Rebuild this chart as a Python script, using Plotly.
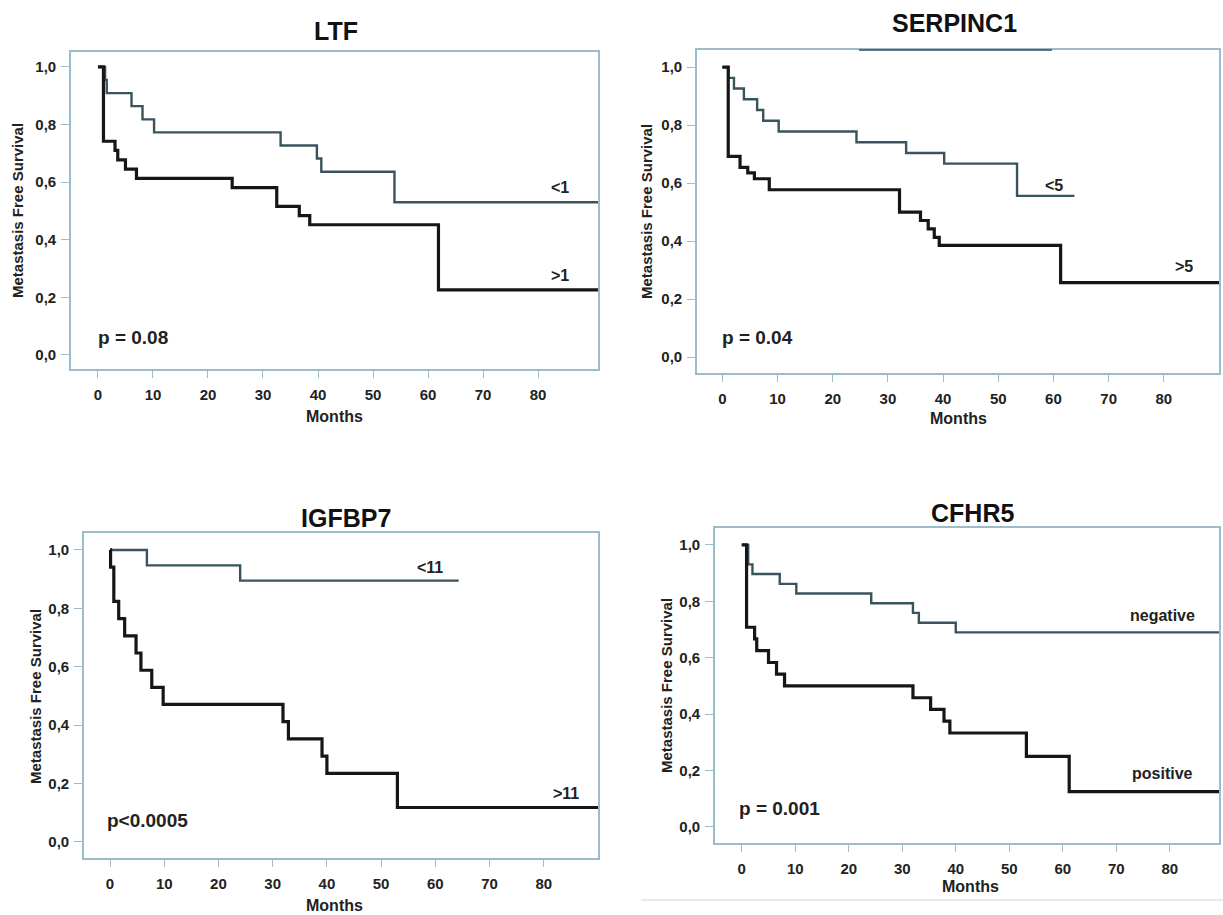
import plotly.graph_objects as go

W, H = 1223, 915

# ---------------- data (months, survival) ----------------
ltf_low_t = [0, 1.0, 3.1, 3.6, 5.0, 7.0, 24.4, 32.5, 36.6, 38.5, 61.9, 91.0]
ltf_low_s = [1.0, 0.742, 0.710, 0.677, 0.645, 0.613, 0.581, 0.516, 0.484, 0.452, 0.226, 0.226]
ltf_high_t = [0, 1.3, 1.6, 6.1, 8.1, 10.2, 33.2, 39.8, 40.6, 53.9, 91.0]
ltf_high_s = [1.0, 0.955, 0.909, 0.864, 0.818, 0.773, 0.727, 0.682, 0.636, 0.530, 0.530]

ser_high_t = [0, 1.06, 2.1, 3.9, 6.3, 7.4, 10.2, 24.3, 33.3, 40.2, 53.4, 63.8]
ser_high_s = [1.0, 0.963, 0.926, 0.889, 0.852, 0.815, 0.778, 0.741, 0.704, 0.667, 0.556, 0.556]
ser_low_t = [0, 1.06, 3.2, 4.6, 5.8, 8.5, 32.1, 35.9, 37.3, 38.4, 39.3, 61.3, 90.0]
ser_low_s = [1.0, 0.692, 0.654, 0.635, 0.615, 0.577, 0.500, 0.471, 0.442, 0.413, 0.385, 0.257, 0.257]

igf_high_t = [0, 6.8, 24.0, 64.3]
igf_high_s = [1.0, 0.947, 0.895, 0.895]
igf_low_t = [0, 0.1, 0.7, 1.6, 2.7, 4.8, 5.7, 7.7, 9.8, 31.9, 32.9, 39.1, 40.0, 53.0, 90.0]
igf_low_s = [1.0, 0.941, 0.824, 0.765, 0.706, 0.647, 0.588, 0.529, 0.471, 0.412, 0.353, 0.294, 0.235, 0.118, 0.118]

cf_neg_t = [0, 1.2, 2.0, 7.1, 10.2, 24.2, 32.0, 33.1, 40.0, 89.2]
cf_neg_s = [1.0, 0.931, 0.897, 0.862, 0.828, 0.793, 0.759, 0.724, 0.690, 0.690]
cf_pos_t = [0, 0.9, 2.4, 2.8, 5.0, 6.5, 8.0, 32.0, 35.3, 37.8, 38.9, 53.2, 61.2, 89.2]
cf_pos_s = [1.0, 0.708, 0.667, 0.625, 0.583, 0.542, 0.500, 0.458, 0.417, 0.375, 0.333, 0.250, 0.125, 0.125]

titles = ["LTF", "SERPINC1", "IGFBP7", "CFHR5"]
high_labels = ["<1", "<5", "<11", "negative"]
low_labels = [">1", ">5", ">11", "positive"]
p_texts = ["p = 0.08", "p = 0.04", "p<0.0005", "p = 0.001"]

y_tickvals = [0.0, 0.2, 0.4, 0.6, 0.8, 1.0]
y_ticktext = ["0,0", "0,2", "0,4", "0,6", "0,8", "1,0"]
x_tickvals = [0, 10, 20, 30, 40, 50, 60, 70, 80]
x_ticktext = ["0", "10", "20", "30", "40", "50", "60", "70", "80"]

# ---------------- layout geometry (pixels) ----------------
panels = [
    dict(box=(71, 598, 52, 369), xr=[-4.9, 90.9], yr=[-0.049, 1.052],
         high=(ltf_high_t, ltf_high_s), low=(ltf_low_t, ltf_low_s),
         title_xy=(336, 31), months_xy=(334, 416), ytitle_xy=(18, 211),
         hl_xy=(560, 188), ll_xy=(560, 275), p_xy=(96, 338)),
    dict(box=(697, 1219, 50, 373), xr=[-4.6, 90.0], yr=[-0.055, 1.059],
         high=(ser_high_t, ser_high_s), low=(ser_low_t, ser_low_s),
         title_xy=(954, 23), months_xy=(958, 418), ytitle_xy=(647, 212),
         hl_xy=(1054, 185), ll_xy=(1184, 267), p_xy=(720, 338)),
    dict(box=(84, 598, 533, 858), xr=[-4.8, 90.0], yr=[-0.055, 1.058],
         high=(igf_high_t, igf_high_s), low=(igf_low_t, igf_low_s),
         title_xy=(346, 518), months_xy=(334, 905), ytitle_xy=(35, 697),
         hl_xy=(430, 567), ll_xy=(566, 793), p_xy=(105, 820)),
    dict(box=(715, 1219, 528, 843), xr=[-5.0, 89.2], yr=[-0.057, 1.06],
         high=(cf_neg_t, cf_neg_s), low=(cf_pos_t, cf_pos_s),
         title_xy=(972, 513), months_xy=(970, 886), ytitle_xy=(666, 686),
         hl_xy=(1162, 615), ll_xy=(1162, 773), p_xy=(737, 808)),
]

FRAME = "#9cbccb"
HIGH_C = "#3a545e"
LOW_C = "#161616"
TXT = "#222222"
FONT = "Liberation Sans, Arial, sans-serif"


def px(x):
    return x / W


def py(y):
    return 1 - y / H


fig = go.Figure()
layout = dict(width=W, height=H, autosize=False, margin=dict(l=0, r=0, t=0, b=0),
              paper_bgcolor="white", plot_bgcolor="white", showlegend=False,
              annotations=[], shapes=[])

for i, p in enumerate(panels):
    n = "" if i == 0 else str(i + 1)
    x0, x1, y0, y1 = p["box"]
    xa = "x" + n
    ya = "y" + n
    for (t, s), col, lw in ((p["high"], HIGH_C, 2.4), (p["low"], LOW_C, 3.2)):
        fig.add_trace(go.Scatter(x=t, y=s, mode="lines", line=dict(color=col, width=lw, shape="hv"),
                                 xaxis=xa, yaxis=ya, hoverinfo="skip"))
    layout["xaxis" + n] = dict(domain=[px(x0), px(x1)], range=p["xr"], anchor=ya,
                               showline=True, mirror=True, linecolor=FRAME, linewidth=1.6,
                               showgrid=False, zeroline=False, ticks="outside", ticklen=7,
                               tickwidth=1.3, tickcolor=FRAME, tickvals=x_tickvals,
                               ticktext=x_ticktext, ticklabelstandoff=4,
                               tickfont=dict(family=FONT, size=15, color=TXT, weight="bold"))
    layout["yaxis" + n] = dict(domain=[py(y1), py(y0)], range=p["yr"], anchor=xa,
                               showline=True, mirror=True, linecolor=FRAME, linewidth=1.6,
                               showgrid=False, zeroline=False, ticks="outside", ticklen=8,
                               tickwidth=1.3, tickcolor=FRAME, tickvals=y_tickvals,
                               ticktext=y_ticktext, ticklabelstandoff=2,
                               tickfont=dict(family=FONT, size=15, color=TXT, weight="bold"))
    ann = layout["annotations"]
    tx, ty = p["title_xy"]
    ann.append(dict(x=px(tx), y=py(ty), xref="paper", yref="paper", text=titles[i],
                    showarrow=False, xanchor="center", yanchor="middle",
                    font=dict(family=FONT, size=25, color="#111", weight="bold")))
    mx, my = p["months_xy"]
    ann.append(dict(x=px(mx), y=py(my), xref="paper", yref="paper", text="Months",
                    showarrow=False, xanchor="center", yanchor="middle",
                    font=dict(family=FONT, size=16, color=TXT, weight="bold")))
    yx, yy = p["ytitle_xy"]
    ann.append(dict(x=px(yx), y=py(yy), xref="paper", yref="paper", text="Metastasis Free Survival",
                    showarrow=False, xanchor="center", yanchor="middle", textangle=-90,
                    font=dict(family=FONT, size=15, color=TXT, weight="bold")))
    hx, hy = p["hl_xy"]
    ann.append(dict(x=px(hx), y=py(hy), xref="paper", yref="paper", text=high_labels[i].replace("<", "&lt;"),
                    showarrow=False, xanchor="center", yanchor="middle",
                    font=dict(family=FONT, size=16, color=TXT, weight="bold")))
    lx, ly = p["ll_xy"]
    ann.append(dict(x=px(lx), y=py(ly), xref="paper", yref="paper", text=low_labels[i].replace(">", "&gt;"),
                    showarrow=False, xanchor="center", yanchor="middle",
                    font=dict(family=FONT, size=16, color=TXT, weight="bold")))
    qx, qy = p["p_xy"]
    ann.append(dict(x=px(qx), y=py(qy), xref="paper", yref="paper", text=p_texts[i],
                    showarrow=False, xanchor="left", yanchor="middle",
                    font=dict(family=FONT, size=19, color=TXT, weight="bold")))

# scan artefacts: darker segment on SERPINC1 top frame, faint line under CFHR5
layout["shapes"].append(dict(type="line", xref="paper", yref="paper", x0=px(859), x1=px(1052),
                             y0=py(50), y1=py(50), line=dict(color="#31505c", width=1.6)))
layout["shapes"].append(dict(type="line", xref="paper", yref="paper", x0=px(641), x1=px(1223),
                             y0=py(900), y1=py(900), line=dict(color="#e6eee4", width=2)))

fig.update_layout(**layout)
fig.write_html("out.html", config={"displayModeBar": False},
               post_script="document.body.style.margin='0';")
